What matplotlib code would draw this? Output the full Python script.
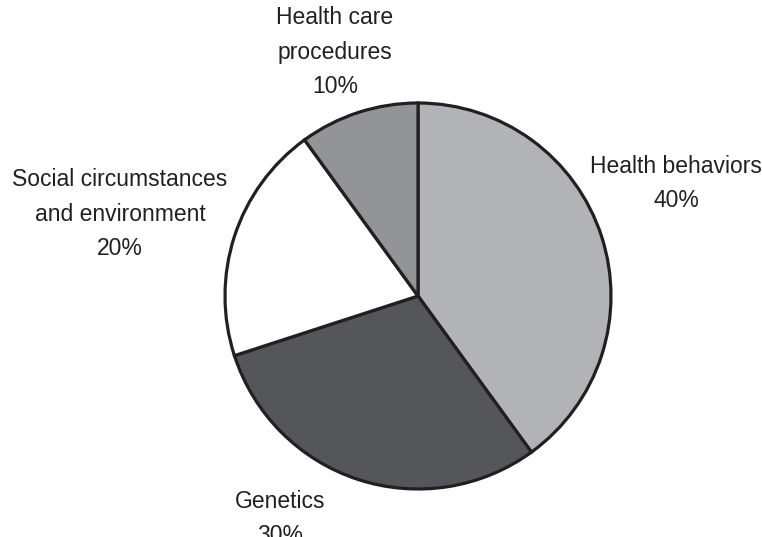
#!/usr/bin/env python3
# Pie chart of the factors that determine health

import matplotlib.pyplot as plt

# Slice data, clockwise from 12 o'clock
categories = ['Health behaviors', 'Genetics',
              'Social circumstances\nand environment',
              'Health care\nprocedures']
shares = [40, 30, 20, 10]
colors = ['#b2b3b6', '#55565a', '#ffffff', '#939498']

# Label anchors: centre x and baseline of the percent line (pixels, y up)
label_pos = [(676, 330), (280, -5), (120, 282), (335, 444)]

plt.rcParams['font.family'] = ['Liberation Sans', 'DejaVu Sans']

fig = plt.figure(figsize=(7.62, 5.37), dpi=100)
ax = fig.add_axes([0, 0, 1, 1])

ax.pie(shares, colors=colors, startangle=90, counterclock=False,
       center=(418, 241), radius=193,
       wedgeprops=dict(edgecolor='#231f20', linewidth=2.3))

for name, val, (x, y) in zip(categories, shares, label_pos):
    ax.text(x, y, f'{name}\n{val}%', ha='center', va='baseline',
            multialignment='center', fontsize=16.5, color='#231f20',
            linespacing=1.63, clip_on=False)

ax.set_xlim(0, 762)
ax.set_ylim(0, 537)
ax.set_aspect('equal')
ax.axis('off')

fig.savefig('out.png', dpi=100)
